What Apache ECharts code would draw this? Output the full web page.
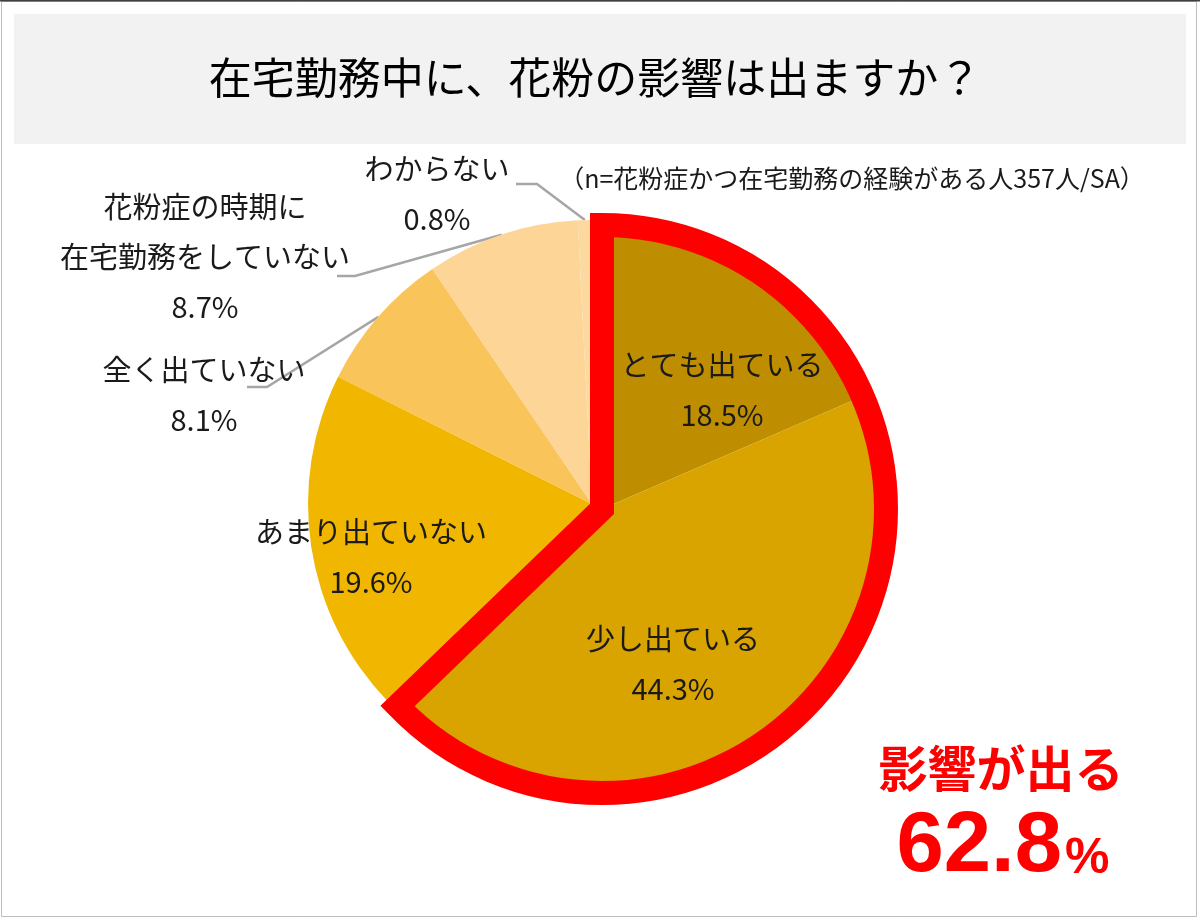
<!DOCTYPE html>
<html>
<head>
<meta charset="utf-8">
<script src="https://cdn.jsdelivr.net/npm/echarts@6/dist/echarts.min.js"></script>
<style>
html,body{margin:0;padding:0;background:#fff;}
#c{width:1200px;height:919px;}
</style>
</head>
<body>
<div id="c"></div>
<script>
// ---- data ----
const categories = ['とても出ている', '少し出ている', 'あまり出ていない', '全く出ていない', '花粉症の時期に\n在宅勤務をしていない', 'わからない'];
const values = [18.5, 44.3, 19.6, 8.1, 8.7, 0.8];
const highlighted = [0, 1];
const titleText = '在宅勤務中に、花粉の影響は出ますか？';
const noteText = '（n=花粉症かつ在宅勤務の経験がある人357人/SA）';
const calloutText = '影響が出る';

// ---- styles / layout ----
const colors = ['#BF8E00', '#D9A300', '#F1B600', '#F9C459', '#FCD597', '#FDD9A0'];
const JP = '"Noto Sans CJK JP", "Noto Sans", sans-serif';
const R = 284;
const centerBase = [592, 504];
const centerOut = [602, 509];
const labelPos = {
  0: {x: 722, y: 390},
  1: {x: 673, y: 664},
  2: {x: 371, y: 557},
  3: {x: 204, y: 395, bend: [267, 387], end: [247, 387]},
  4: {x: 205, y: 257, bend: [355, 276], end: [337, 276]},
  5: {x: 437, y: 194, bend: [537, 184], end: [516, 184]}
};

const total = values.reduce((a, b) => a + b, 0);
const hiSum = highlighted.reduce((a, i) => a + values[i], 0);

function midPoint(i, center) {
  let before = 0;
  for (let k = 0; k < i; k++) before += values[k];
  const ang = (before + values[i] / 2) / total * 2 * Math.PI;
  return [center[0] + R * Math.sin(ang), center[1] - R * Math.cos(ang)];
}

const labelStyle = {
  fontSize: 29, lineHeight: 50, color: '#1a1a1a', fontFamily: JP, align: 'center'
};

function makeData(showSet) {
  return values.map((v, i) => {
    const show = showSet(i);
    const inside = v > 10;
    return {
      value: v,
      name: categories[i],
      itemStyle: {color: show ? colors[i] : 'rgba(0,0,0,0)', borderWidth: 0},
      label: {show: show, position: inside ? 'inside' : 'outside'},
      labelLine: {show: show && !inside}
    };
  });
}

function layoutFn(center) {
  return function (p) {
    const lp = labelPos[p.dataIndex];
    if (!lp) return {};
    const o = {x: lp.x, y: lp.y, align: 'center', verticalAlign: 'middle'};
    if (lp.bend) {
      const p0 = (p.labelLinePoints && p.labelLinePoints[0]) ? p.labelLinePoints[0] : midPoint(p.dataIndex, center);
      o.labelLinePoints = [p0, lp.bend, lp.end];
    }
    return o;
  };
}

const commonPie = {
  type: 'pie',
  radius: R,
  startAngle: 90,
  clockwise: true,
  avoidLabelOverlap: false,
  animation: false,
  emphasis: {disabled: true},
  label: Object.assign({formatter: p => p.name + '\n' + p.value.toFixed(1) + '%'}, labelStyle),
  labelLine: {lineStyle: {color: '#A6A6A6', width: 2.5}, smooth: false}
};

const option = {
  animation: false,
  graphic: [
    {type: 'rect', shape: {x: 1.5, y: 1.5, width: 1195, height: 915}, style: {fill: '#fff', stroke: '#BDBDBD', lineWidth: 1}, z: -10},
    {type: 'line', shape: {x1: 0, y1: 0.5, x2: 1200, y2: 0.5}, style: {stroke: '#404040', lineWidth: 2}, z: -9},
    {type: 'rect', shape: {x: 14, y: 14, width: 1172, height: 130}, style: {fill: '#F2F2F2'}, z: -8},
    {type: 'text', x: 595, y: 78, style: {text: titleText, fontSize: 43, fontFamily: JP, fill: '#000', align: 'center', verticalAlign: 'middle'}},
    {type: 'text', x: 852, y: 178, style: {text: noteText, fontSize: 25, fontFamily: JP, fill: '#1a1a1a', align: 'center', verticalAlign: 'middle'}},
    {type: 'text', x: 1001, y: 768, style: {text: calloutText, fontSize: 49, fontWeight: 'bold', fontFamily: JP, fill: '#FF0000', align: 'center', verticalAlign: 'middle'}},
    {type: 'text', x: 1062, y: 848, style: {text: hiSum.toFixed(1), fontSize: 85, fontWeight: 'bold', fontFamily: '"Liberation Sans", Arial, sans-serif', fill: '#FF0000', align: 'right', verticalAlign: 'middle'}},
    {type: 'text', x: 1065, y: 859, style: {text: '%', fontSize: 50, fontWeight: 'bold', fontFamily: '"Liberation Sans", Arial, sans-serif', fill: '#FF0000', align: 'left', verticalAlign: 'middle'}}
  ],
  series: [
    Object.assign({}, commonPie, {
      name: 'base',
      center: centerBase,
      data: makeData(i => !highlighted.includes(i)),
      labelLayout: layoutFn(centerBase),
      z: 2
    }),
    Object.assign({}, commonPie, {
      name: 'exploded',
      center: centerOut,
      data: makeData(i => highlighted.includes(i)),
      labelLayout: layoutFn(centerOut),
      z: 3
    }),
    Object.assign({}, commonPie, {
      name: 'outline',
      center: centerOut,
      silent: true,
      z: 4,
      label: {show: false},
      labelLine: {show: false},
      data: [
        {value: hiSum, name: calloutText, itemStyle: {color: 'rgba(0,0,0,0)', borderColor: '#FF0000', borderWidth: 24, borderJoin: 'miter', borderMiterLimit: 20}},
        {value: total - hiSum, name: 'rest', itemStyle: {color: 'rgba(0,0,0,0)', borderWidth: 0}}
      ]
    })
  ]
};

const chart = echarts.init(document.getElementById('c'), null, {renderer: 'canvas'});
chart.setOption(option);
</script>
</body>
</html>
